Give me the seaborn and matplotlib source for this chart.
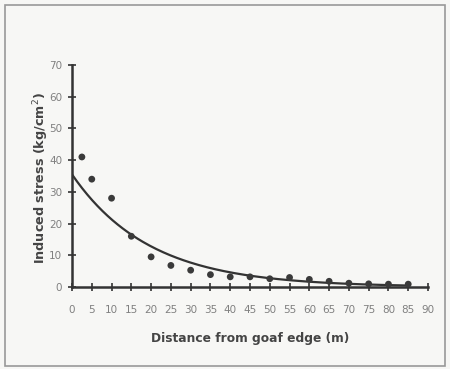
import numpy as np
import pandas as pd
import matplotlib
matplotlib.use("Agg")
import matplotlib.pyplot as plt
import seaborn as sns
from matplotlib.patches import Rectangle

# Data
distance = [2.5, 5, 10, 15, 20, 25, 30, 35, 40, 45, 50, 55, 60, 65, 70, 75, 80, 85]
stress = [41, 34, 28, 16, 9.5, 6.8, 5.3, 3.9, 3.2, 3.2, 2.6, 3.0, 2.4, 1.8, 1.2, 1.0, 0.9, 0.9]
x_ticks = list(range(0, 95, 5))
y_ticks = list(range(0, 80, 10))
# exponential trendline coefficients (y = a * exp(-k x))
trend_a = 35.5
trend_k = 0.051

sns.set_theme(style="white")
plt.rcParams['font.family'] = ['DejaVu Sans']

fig = plt.figure(figsize=(4.5, 3.69), dpi=100)
fig.patch.set_facecolor("#f7f7f5")
ax = fig.add_axes([72/450, 1-287/369, (428-72)/450, (287-65)/369])
ax.set_facecolor("#f7f7f5")

df = pd.DataFrame({"x": distance, "y": stress})
sns.scatterplot(data=df, x="x", y="y", ax=ax, color="#3a3a3a", s=24,
                edgecolor="none", marker="o", zorder=3)

tx = np.linspace(0, 85, 200)
trend = pd.DataFrame({"x": tx, "y": trend_a * np.exp(-trend_k * tx)})
sns.lineplot(data=trend, x="x", y="y", ax=ax, color="#333333", linewidth=1.6, zorder=2)

ax.set_xlim(0, 90)
ax.set_ylim(0, 70)
ax.set_xticks(x_ticks)
ax.set_yticks(y_ticks)
ax.set_xticklabels([str(t) for t in x_ticks], fontsize=7.5, color="#808080")
ax.set_yticklabels([str(t) for t in y_ticks], fontsize=7.5, color="#808080")
ax.tick_params(axis="both", direction="inout", length=6, width=1.2, color="#333333",
               bottom=True, left=True)
ax.tick_params(axis="x", pad=10)
ax.tick_params(axis="y", pad=4)
for s in ["top", "right"]:
    ax.spines[s].set_visible(False)
for s in ["left", "bottom"]:
    ax.spines[s].set_color("#333333")
    ax.spines[s].set_linewidth(1.8)

ax.set_xlabel("Distance from goaf edge (m)", fontsize=8.8, fontweight="bold",
              color="#444444", labelpad=12)
ax.set_ylabel("Induced stress (kg/cm$^2$)", fontsize=9.2, fontweight="bold",
              color="#444444")
ax.yaxis.set_label_coords(-0.06, 0.49)

fig.add_artist(Rectangle((5/450, 1-366/369), (445-5)/450, (366-5)/369,
                         transform=fig.transFigure, fill=False,
                         edgecolor="#999999", linewidth=1.2))

fig.savefig("out.png", dpi=100, facecolor=fig.get_facecolor())
